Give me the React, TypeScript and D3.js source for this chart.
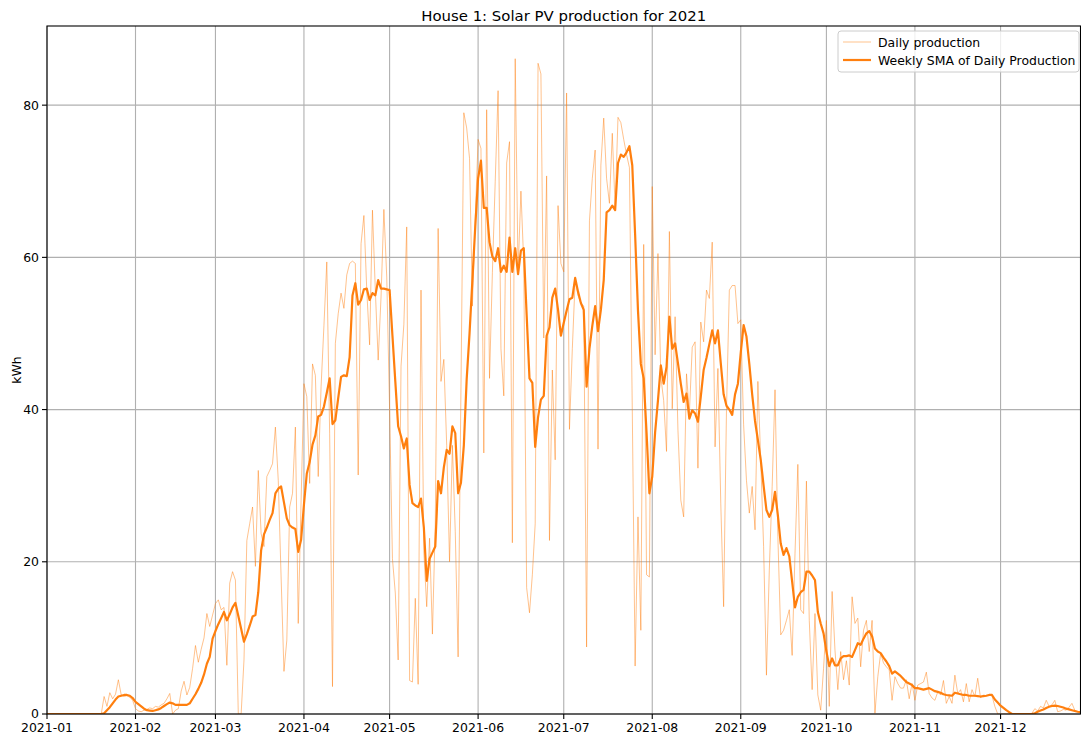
import React from "react";
import * as d3 from "d3";

// Daily PV production (kWh), one value per day starting 2021-01-01
const dailyKWh: number[] = [
  // Jan
  0, 0, 0, 0, 0, 0, 0, 0, 0, 0, 0, 0, 0, 0, 0, 0, 0, 0, 0, 0, 2.3, 1.0, 2.8, 2.0, 2.6, 4.5, 2.5, 2.3, 2.4, 2.2, 1.8,
  // Feb
  0.7, 0.4, 0.3, 0.5, 0.6, 0.8, 0.7, 1.0, 0.9, 1.2, 1.4, 2.0, 2.7, 0.0, 0.5, 0.7, 3.0, 4.3, 2.5, 3.5, 6.0, 9.0, 6.8, 8.5, 10.0, 13.2, 11.5, 13.0,
  // Mar
  14.5, 15, 13.7, 14, 6.4, 17.2, 18.7, 17.6, 0, 0, 7.1, 22.8, 25, 27.2, 19.4, 32, 23.7, 22, 31.2, 32, 32.9, 37.7, 30.7, 18, 5.6, 9.7, 27.2, 29, 37.7, 11.9, 28,
  // Apr
  43.4, 41.7, 30.3, 46, 44.5, 31.2, 43, 51, 59.4, 36.9, 3.6, 48.7, 52.6, 55.3, 53.3, 57.7, 59.2, 59.5, 59.2, 31.4, 61.8, 65.5, 55.7, 48.5, 66.2, 55.7, 46.5, 54.8, 66.3, 57.4,
  // May
  40, 20.4, 15.9, 7.1, 45.7, 51.2, 64, 4.4, 4.2, 15.2, 3.9, 55.7, 21.3, 14.1, 23.1, 10.5, 24.9, 63.8, 43.7, 46.6, 35.3, 20, 35.3, 24, 7.5, 43, 79, 77, 73, 53.6, 65,
  // Jun
  75.5, 74.3, 34.3, 79.4, 44.1, 58, 70, 81.9, 48, 41.8, 72.4, 75.2, 22.5, 86.1, 58.1, 68.7, 59.2, 16.6, 13.3, 18.3, 25, 85.5, 84.1, 49.4, 70.7, 22.8, 45.2, 33.4, 66.8, 59.2,
  // Jul
  58.1, 81.6, 37.4, 48, 57, 55, 54, 53.6, 8.8, 64.8, 70.4, 74.1, 34.8, 72.1, 78.3, 70.4, 67.1, 76.3, 66.5, 78.4, 77.7, 75.5, 73.5, 71.8, 40, 6.3, 25.9, 11, 61.7, 18.3, 18,
  // Aug
  69.3, 47.2, 60.5, 44.3, 41.2, 34.5, 63.4, 40.1, 52.2, 37.3, 28.1, 25.9, 44.7, 39.5, 48.2, 48.9, 32.3, 51.5, 48.9, 55.7, 54.6, 62, 35.1, 45.4, 27.7, 14.1, 39.9, 55.7, 56.3, 56.3, 51.3,
  // Sep
  51.8, 38, 30.7, 26.4, 29.9, 24.2, 43.7, 33.4, 22, 5.1, 18.9, 29.9, 42.6, 23.3, 10.4, 11, 12.3, 13.7, 7.7, 21.1, 32.8, 13.7, 13.2, 30.6, 12.3, 3.2, 13.2, 2.5, 0.5, 6,
  // Oct
  12.3, 1, 16.1, 8.4, 3.2, 8.2, 4.5, 7, 3.8, 15.4, 11.9, 12.6, 6.2, 11, 12.3, 8.2, 12.3, 0.1, 4.9, 8, 6.7, 6.2, 5.8, 1.8, 4.9, 4, 3.4, 3.4, 4.5, 2, 4,
  // Nov
  1.8, 3.8, 4, 4.2, 5.5, 2.7, 2.1, 1.8, 2.9, 2.5, 4.4, 1.4, 2.3, 1.4, 5.1, 2.7, 3.2, 1.6, 4, 1.6, 3.2, 2.3, 4.7, 2.1, 2.5, 2.4, 2.5, 2.4, 1, 0,
  // Dec (to the 29th)
  0, 0, 0, 0, 0, 0, 0, 0, 0, 0, 0, 0.1, 0.7, 0.4, 1, 0.8, 1.8, 1, 1.2, 1.8, 0.3, 0.4, 0.6, 0.5, 0.9, 1.4, 0.5, 0.3, 0.2,
];

// Weekly simple moving average (kWh)
const weeklySmaKWh: number[] = [
  // Jan
  0, 0, 0, 0, 0, 0, 0, 0, 0, 0, 0, 0, 0, 0, 0, 0, 0, 0, 0, 0, 0.1, 0.5, 0.9, 1.4, 1.9, 2.3, 2.4, 2.5, 2.5, 2.4, 2.1,
  // Feb
  1.6, 1.3, 1.0, 0.7, 0.5, 0.45, 0.4, 0.5, 0.6, 0.8, 1.05, 1.3, 1.5, 1.4, 1.2, 1.2, 1.2, 1.2, 1.2, 1.4, 2.0, 2.6, 3.3, 4.1, 5.2, 6.6, 7.5, 9.9,
  // Mar
  10.9, 11.8, 12.6, 13.4, 12.3, 13.1, 14.0, 14.6, 12.9, 11.2, 9.5, 10.5, 11.6, 12.8, 13.0, 16.0, 21.5, 23.6, 24.5, 25.5, 26.4, 29.0, 29.6, 29.9, 27.8, 25.7, 24.8, 24.5, 24.3, 21.3, 22.9,
  // Apr
  27.5, 31.6, 33.1, 35.4, 36.6, 39.1, 39.3, 40.4, 42.2, 44.1, 38.1, 38.6, 41.5, 44.3, 44.5, 44.4, 46.9, 55.0, 56.6, 53.8, 54.4, 55.8, 55.9, 54.4, 55.3, 55.0, 57.0, 55.9, 55.9, 55.8,
  // May
  55.7, 49.7, 43.7, 37.8, 36.5, 34.9, 36.2, 30.1, 27.7, 27.4, 27.2, 28.3, 24.5, 17.5, 20.4, 21.2, 22.0, 30.6, 29.0, 32.4, 34.7, 34.2, 37.8, 36.9, 29.0, 30.4, 35.3, 44.0, 50, 57, 64,
  // Jun
  70.4, 72.7, 66.5, 66.5, 62, 60.1, 59.5, 61.2, 58.1, 58.9, 58.1, 62.6, 58.1, 61.2, 57.8, 60.9, 61.2, 52.5, 44.1, 43.5, 35.1, 39, 41.3, 41.8, 49.7, 50.8, 54.7, 55.9, 53.1, 49.7,
  // Jul
  51.4, 53, 54.5, 54.7, 57.3, 55.5, 54, 53.1, 43, 48, 51, 53.6, 50.3, 53.1, 57, 65.9, 66.2, 66.8, 66.2, 72.4, 73.5, 73.2, 73.8, 74.6, 72.1, 63, 53, 46, 44.1, 37, 29,
  // Aug
  31.2, 37, 41.2, 45.8, 43.4, 45.6, 52.2, 48, 48.7, 46.1, 43.4, 41, 42.1, 38.8, 39.9, 39.5, 38.4, 41.7, 45.2, 46.8, 48.6, 50.4, 48.7, 50.4, 46.1, 42, 40.5, 40, 39.3, 42, 43.4,
  // Sep
  47.5, 51.1, 49.6, 46, 42, 38.5, 36, 33.4, 30, 26.8, 25.9, 26.8, 29.2, 26.1, 22.4, 20.9, 21.8, 20.7, 17.4, 14, 15.4, 16, 16.3, 18.7, 18.7, 18.2, 17.6, 13.4, 11.9, 10.6,
  // Oct
  8.2, 6.3, 7.3, 6.4, 6.4, 7.3, 7.6, 7.6, 7.7, 7.5, 8.4, 9.3, 9.1, 9.9, 10.6, 10.9, 10.2, 8.6, 8.2, 8, 7.4, 6.9, 6.3, 5.3, 5.6, 5.3, 5, 4.6, 4.2, 4, 3.8,
  // Nov
  3.4, 3.4, 3.3, 3.2, 3.3, 3.4, 3.2, 3.0, 2.9, 2.8, 2.6, 2.5, 2.45, 2.4, 2.8, 2.7, 2.6, 2.5, 2.5, 2.4, 2.4, 2.4, 2.35, 2.3, 2.35, 2.4, 2.5, 2.5, 1.9, 1.5,
  // Dec (to the 29th)
  1.1, 0.8, 0.5, 0.25, 0, 0, 0, 0, 0, 0, 0, 0, 0.1, 0.3, 0.45, 0.6, 0.8, 0.95, 1.05, 1.1, 1.05, 0.95, 0.85, 0.7, 0.6, 0.5, 0.4, 0.3, 0.25,
];

const startDate = "2021-01-01";
const monthTickLabels = [
  "2021-01", "2021-02", "2021-03", "2021-04", "2021-05", "2021-06",
  "2021-07", "2021-08", "2021-09", "2021-10", "2021-11", "2021-12",
];
const yTickValues = [0, 20, 40, 60, 80];
const yMax = 90.4;

const titleText = "House 1: Solar PV production for 2021";
const yLabelText = "kWh";
const legendLabels = ["Daily production", "Weekly SMA of Daily Production"];

const FONT = "'DejaVu Sans', Verdana, sans-serif";
const ORANGE = "#ff7f0e";

export default function App() {
  const W = 1081;
  const H = 735;
  const left = 47;
  const right = 1080.5;
  const top = 26;
  const bottom = 714;

  const parseDay = d3.timeParse("%Y-%m-%d");
  const parseMonth = d3.timeParse("%Y-%m");
  const start = parseDay(startDate) as Date;
  const dates = dailyKWh.map((_, i) => d3.timeDay.offset(start, i));

  const x = d3
    .scaleTime()
    .domain([dates[0], dates[dates.length - 1]])
    .range([left, right]);
  const y = d3.scaleLinear().domain([0, yMax]).range([bottom, top]);

  const monthTicks = monthTickLabels.map((s) => ({ label: s, date: parseMonth(s) as Date }));

  const lineGen = d3
    .line<number>()
    .x((_, i) => x(dates[i]))
    .y((d) => y(d));

  const dailyPath = lineGen(dailyKWh) || "";
  const smaPath = lineGen(weeklySmaKWh) || "";

  const tickFont = 12.45;

  return (
    <div style={{ position: "absolute", left: 0, top: 0 }}>
      <svg width={W} height={H} style={{ display: "block", background: "#fff" }} fontFamily={FONT}>
        <defs>
          <clipPath id="plotClip">
            <rect x={left} y={top} width={right - left} height={bottom - top} />
          </clipPath>
        </defs>
        <rect x={0} y={0} width={W} height={H} fill="#fff" />

        {/* grid */}
        <g stroke="#b0b0b0" strokeWidth={1.1}>
          {monthTicks.map((t) => (
            <line key={"gx" + t.label} x1={x(t.date)} x2={x(t.date)} y1={top} y2={bottom} />
          ))}
          {yTickValues.map((v) => (
            <line key={"gy" + v} x1={left} x2={right} y1={y(v)} y2={y(v)} />
          ))}
        </g>

        {/* data */}
        <g clipPath="url(#plotClip)">
          <path d={dailyPath} fill="none" stroke={ORANGE} strokeOpacity={0.5} strokeWidth={0.95} strokeLinejoin="round" />
          <path d={smaPath} fill="none" stroke={ORANGE} strokeWidth={2.2} strokeLinejoin="round" strokeLinecap="square" />
        </g>

        {/* spines */}
        <rect x={left} y={top} width={right - left} height={bottom - top} fill="none" stroke="#000" strokeWidth={1.1} />

        {/* x ticks */}
        <g>
          {monthTicks.map((t) => (
            <g key={"tx" + t.label} transform={`translate(${x(t.date)},${bottom})`}>
              <line y1={0} y2={5} stroke="#000" strokeWidth={1.1} />
              <text y={17.5} textAnchor="middle" fontSize={tickFont} fill="#000">
                {t.label}
              </text>
            </g>
          ))}
        </g>

        {/* y ticks */}
        <g>
          {yTickValues.map((v) => (
            <g key={"ty" + v} transform={`translate(${left},${y(v)})`}>
              <line x1={0} x2={-5} stroke="#000" strokeWidth={1.1} />
              <text x={-8} dy="0.35em" textAnchor="end" fontSize={tickFont} fill="#000">
                {v}
              </text>
            </g>
          ))}
        </g>

        {/* y label */}
        <text
          transform={`translate(21,${(top + bottom) / 2}) rotate(-90)`}
          textAnchor="middle"
          fontSize={tickFont}
          fill="#000"
        >
          {yLabelText}
        </text>

        {/* title */}
        <text x={(left + right) / 2} y={21} textAnchor="middle" fontSize={14.9} fill="#000">
          {titleText}
        </text>

        {/* legend */}
        <g transform="translate(838,31)">
          <rect x={0} y={0} width={241} height={41} rx={3} fill="#fff" fillOpacity={0.8} stroke="#cccccc" strokeWidth={1} />
          <line x1={5} x2={33} y1={11} y2={11} stroke={ORANGE} strokeOpacity={0.5} strokeWidth={0.95} />
          <text x={40} y={15.5} fontSize={tickFont} fill="#000">
            {legendLabels[0]}
          </text>
          <line x1={5} x2={33} y1={29} y2={29} stroke={ORANGE} strokeWidth={2.2} />
          <text x={40} y={33.5} fontSize={tickFont} fill="#000">
            {legendLabels[1]}
          </text>
        </g>
      </svg>
    </div>
  );
}
